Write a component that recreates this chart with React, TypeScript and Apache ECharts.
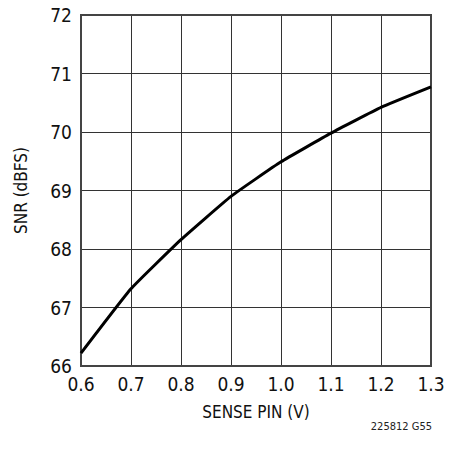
import React, { useEffect, useRef } from "react";
import * as echarts from "echarts";

const senseV = [0.6, 0.7, 0.8, 0.9, 1.0, 1.1, 1.2, 1.3];
const snr = [66.22, 67.32, 68.16, 68.9, 69.49, 69.98, 70.42, 70.77];
const xTitle = "SENSE PIN (V)";
const yTitle = "SNR (dBFS)";
const footnote = "225812 G55";

const FONT = "'DejaVu Sans Condensed', 'Roboto', sans-serif";

export default function App() {
  const ref = useRef<HTMLDivElement>(null);
  useEffect(() => {
    const chart = echarts.init(ref.current!, null, { renderer: "svg" });
    chart.setOption({
      animation: false,
      backgroundColor: "#ffffff",
      grid: { left: 81, top: 15, width: 350, height: 351, containLabel: false, show: false },
      xAxis: {
        type: "value",
        min: 0.6,
        max: 1.3,
        interval: 0.1,
        name: xTitle,
        nameLocation: "middle",
        nameGap: 37,
        nameTextStyle: { fontFamily: FONT, fontSize: 17, color: "#111" },
        axisLine: { show: true, onZero: false, lineStyle: { color: "#333", width: 2 } },
        axisTick: { show: false },
        axisLabel: {
          fontFamily: FONT,
          fontSize: 19,
          color: "#111",
          margin: 8,
          formatter: (v: number) => v.toFixed(1),
        },
        splitLine: { show: true, lineStyle: { color: "#333", width: 1 } },
      },
      yAxis: {
        type: "value",
        min: 66,
        max: 72,
        interval: 1,
        name: yTitle,
        nameLocation: "middle",
        nameGap: 52,
        nameRotate: 90,
        nameTextStyle: { fontFamily: FONT, fontSize: 17, color: "#111" },
        axisLine: { show: true, onZero: false, lineStyle: { color: "#333", width: 2 } },
        axisTick: { show: false },
        axisLabel: { fontFamily: FONT, fontSize: 19, color: "#111", margin: 9 },
        splitLine: { show: true, lineStyle: { color: "#333", width: 1 } },
      },
      graphic: [
        {
          type: "rect",
          shape: { x: 81, y: 15, width: 350, height: 351 },
          style: { fill: "none", stroke: "#444", lineWidth: 2 },
          silent: true,
          z: 10,
        },
        {
          type: "text",
          right: 24,
          top: 421,
          style: { text: footnote, fontFamily: FONT, fontSize: 11, fill: "#222" },
        },
      ],
      series: [
        {
          type: "line",
          data: senseV.map((x, i) => [x, snr[i]]),
          smooth: 0.12,
          showSymbol: false,
          lineStyle: { color: "#000", width: 3 },
          z: 20,
        },
      ],
    });
    return () => chart.dispose();
  }, []);
  return (
    <div
      ref={ref}
      style={{ position: "fixed", left: 0, top: 0, width: 456, height: 449 }}
    />
  );
}
